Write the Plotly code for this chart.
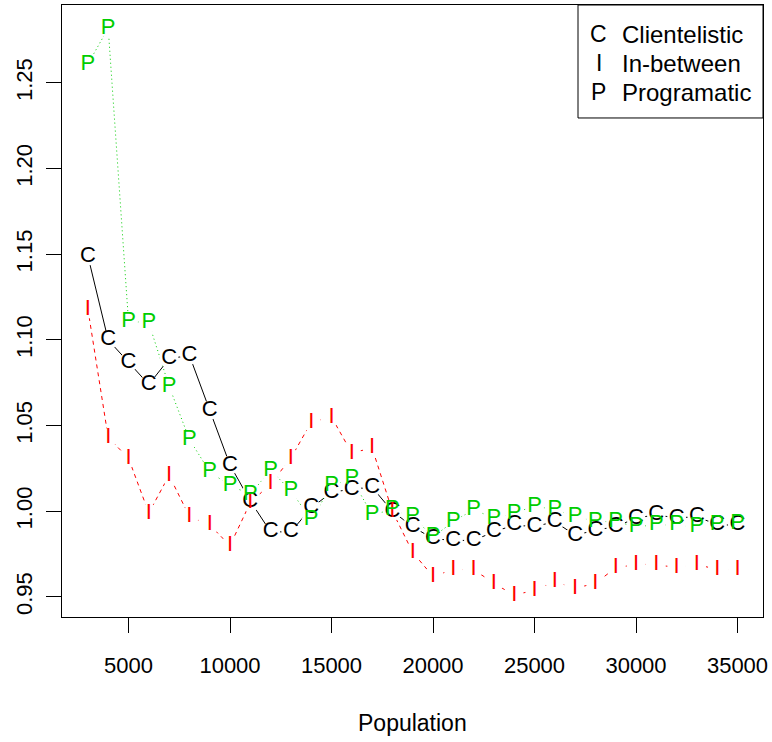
import plotly.graph_objects as go

population = [3000, 4000, 5000, 6000, 7000, 8000, 9000, 10000, 11000, 12000, 13000,
              14000, 15000, 16000, 17000, 18000, 19000, 20000, 21000, 22000, 23000,
              24000, 25000, 26000, 27000, 28000, 29000, 30000, 31000, 32000, 33000,
              34000, 35000]

clientelistic = [1.149, 1.100, 1.087, 1.074, 1.089, 1.091, 1.059, 1.027, 1.006, 0.988, 0.988,
                 1.002, 1.011, 1.013, 1.014, 1.000, 0.991, 0.984, 0.983, 0.983, 0.988,
                 0.992, 0.991, 0.994, 0.986, 0.989, 0.991, 0.996, 0.998, 0.996, 0.997,
                 0.992, 0.992]

in_between = [1.118, 1.043, 1.031, 0.999, 1.021, 0.997, 0.992, 0.980, 1.005, 1.016, 1.031,
              1.052, 1.055, 1.034, 1.037, 1.000, 0.976, 0.962, 0.966, 0.966, 0.958,
              0.951, 0.954, 0.959, 0.955, 0.958, 0.967, 0.969, 0.969, 0.967, 0.969,
              0.966, 0.966]

programatic = [1.261, 1.282, 1.111, 1.110, 1.073, 1.042, 1.023, 1.015, 1.010, 1.024, 1.012,
               0.995, 1.015, 1.019, 0.998, 1.001, 0.997, 0.985, 0.994, 1.001, 0.996,
               0.999, 1.003, 1.001, 0.997, 0.994, 0.994, 0.991, 0.992, 0.992, 0.991,
               0.992, 0.993]

x_ticks = [5000, 10000, 15000, 20000, 25000, 30000, 35000]
y_ticks = [0.95, 1.00, 1.05, 1.10, 1.15, 1.20, 1.25]
y_tick_labels = ["0.95", "1.00", "1.05", "1.10", "1.15", "1.20", "1.25"]

series = [
    ("C", clientelistic, "black", "solid"),
    ("I", in_between, "#FF0000", "4px,4px"),
    ("P", programatic, "#00CD00", "1px,3px"),
]
legend_labels = ["Clientelistic", "In-between", "Programatic"]

FONT = "Liberation Sans, Arial, sans-serif"

fig = go.Figure()
# lines
for letter, vals, col, dash in series:
    fig.add_trace(go.Scatter(x=population, y=vals, mode="lines",
                             line=dict(color=col, width=1, dash=dash),
                             hoverinfo="skip", showlegend=False))
# gaps around the letters (R type="b")
for letter, vals, col, dash in series:
    fig.add_trace(go.Scatter(x=population, y=vals, mode="markers",
                             marker=dict(color="white", size=19, line=dict(width=0)),
                             hoverinfo="skip", showlegend=False))
# letters
for letter, vals, col, dash in series:
    fig.add_trace(go.Scatter(x=population, y=vals, mode="text",
                             text=[letter] * len(vals), textposition="middle center",
                             textfont=dict(color=col, size=22, family=FONT),
                             showlegend=False))

# legend box
fig.add_shape(type="rect", xref="paper", yref="paper",
              x0=0.7361, x1=1.0, y0=0.8154, y1=1.0,
              line=dict(color="black", width=1), fillcolor="white", layer="above")
leg_y = [0.9526, 0.9052, 0.8578]
for (letter, vals, col, dash), lab, yy in zip(series, legend_labels, leg_y):
    fig.add_annotation(xref="paper", yref="paper", x=0.766, y=yy, text=letter,
                       showarrow=False, font=dict(size=23, family=FONT, color="black"),
                       xanchor="center", yanchor="middle")
    fig.add_annotation(xref="paper", yref="paper", x=0.7989, y=yy, text=lab,
                       showarrow=False, font=dict(size=24, family=FONT, color="black"),
                       xanchor="left", yanchor="middle", xshift=-2)

# x-axis title
fig.add_annotation(xref="paper", yref="paper", x=0.5, y=-0.1732, text="Population",
                   showarrow=False, font=dict(size=23, family=FONT, color="black"),
                   xanchor="center", yanchor="middle")

fig.update_layout(
    width=772, height=742,
    margin=dict(l=62, r=9, t=5, b=125),
    paper_bgcolor="white", plot_bgcolor="white",
    font=dict(family=FONT, size=22, color="black"),
    xaxis=dict(range=[1724, 36256], tickmode="array", tickvals=x_ticks,
               ticktext=[str(v) for v in x_ticks], automargin=False,
               ticks="outside", ticklen=15, tickcolor="black", tickwidth=1,
               ticklabelstandoff=14,
               showline=True, linecolor="black", linewidth=1, mirror=True,
               showgrid=False, zeroline=False, tickfont=dict(size=22)),
    yaxis=dict(range=[0.9383, 1.2955], tickmode="array", tickvals=y_ticks,
               ticktext=y_tick_labels, tickangle=-90, automargin=False,
               ticks="outside", ticklen=15, tickcolor="black", tickwidth=1,
               ticklabelstandoff=5,
               showline=True, linecolor="black", linewidth=1, mirror=True,
               showgrid=False, zeroline=False, tickfont=dict(size=22)),
)

fig.write_html("out.html", config={"displayModeBar": False},
               post_script="document.body.style.margin='0px';document.body.style.padding='0px';")
